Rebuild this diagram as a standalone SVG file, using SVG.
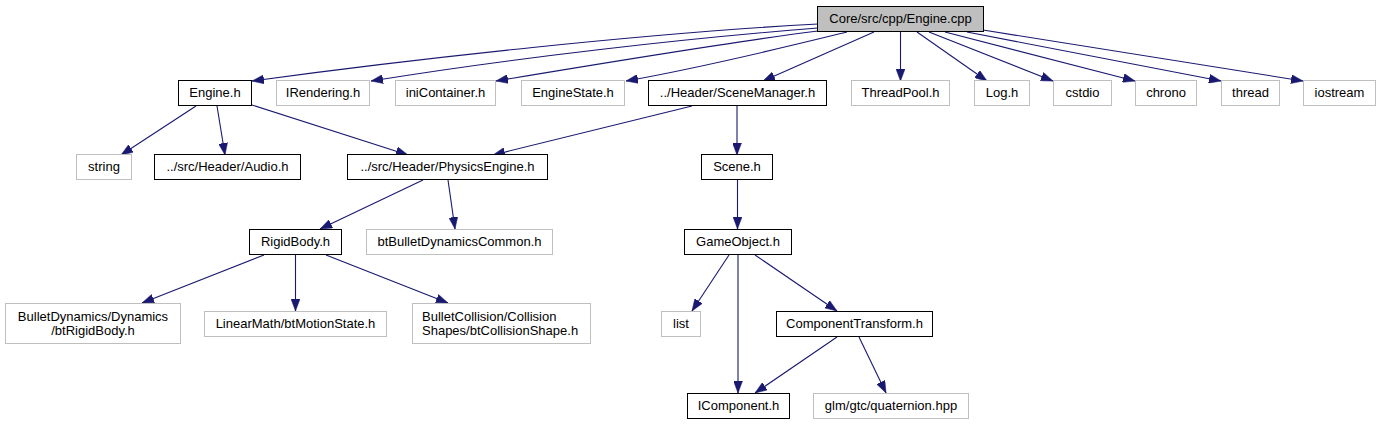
<svg xmlns="http://www.w3.org/2000/svg" width="1381" height="425" viewBox="0 0 1381 425">
<style>
  .n rect { fill: #ffffff; stroke: #000000; stroke-width: 1; }
  .g rect { fill: #ffffff; stroke: #bfbfbf; stroke-width: 1; }
  .root rect { fill: #bfbfbf; stroke: #000000; stroke-width: 1; }
  text { font-family: "Liberation Sans", Arial, Helvetica, sans-serif; font-size: 13px; fill: #000000; text-anchor: middle; }
  .edges path { fill: none; stroke: #191970; stroke-width: 1.1; marker-end: url(#arr); }
</style>
<defs>
  <marker id="arr" viewBox="0 0 12 9" refX="12" refY="4.5" markerWidth="12" markerHeight="9" markerUnits="userSpaceOnUse" orient="auto">
    <path d="M0,0 L12,4.5 L0,9 Z" fill="#191970" stroke="#191970" stroke-width="0.5"/>
  </marker>
</defs>
<rect x="0" y="0" width="1381" height="425" fill="#ffffff"/>
<g id="edges" class="edges">
  <path d="M818,24 C650,33 420,58 252,81"/>
  <path d="M818,28 C690,38 520,57 371,81"/>
  <path d="M818,31 C730,42 610,62 496,81"/>
  <path d="M847,32 C790,46 710,66 626,81"/>
  <path d="M874,32 L763,81"/>
  <path d="M900.5,32 L900.5,81"/>
  <path d="M917,32 L987,81"/>
  <path d="M929,32 L1053,81"/>
  <path d="M945,32 L1135,81"/>
  <path d="M967,32 L1221,81"/>
  <path d="M983,30 L1303,81"/>
  <path d="M196,106 L121,155"/>
  <path d="M217,106 L225,155"/>
  <path d="M252,105 L408,155"/>
  <path d="M692,106 L493,155"/>
  <path d="M737,106 L737,155"/>
  <path d="M423,180 L320,229"/>
  <path d="M448,180 L455,229"/>
  <path d="M264,255 L142,303"/>
  <path d="M295.5,255 L295.5,311"/>
  <path d="M326,255 L448,303"/>
  <path d="M737.5,180 L737.5,229"/>
  <path d="M729,255 L692,311"/>
  <path d="M738,255 L738,393"/>
  <path d="M755,255 L837,311"/>
  <path d="M837,337 L755,393"/>
  <path d="M859,337 L886,393"/>
</g>
<g id="node_root" class="root"><rect x="817.5" y="6.5" width="166" height="25"/><text x="900.5" y="22.5">Core/src/cpp/Engine.cpp</text></g>
<g id="node_engine_h" class="n"><rect x="178.5" y="80.5" width="73" height="25"/><text x="215" y="97">Engine.h</text></g>
<g id="node_irendering" class="g"><rect x="276.5" y="80.5" width="93" height="25"/><text x="323" y="97">IRendering.h</text></g>
<g id="node_inicontainer" class="g"><rect x="395.5" y="80.5" width="100" height="25"/><text x="445.5" y="97">iniContainer.h</text></g>
<g id="node_enginestate" class="g"><rect x="521.5" y="80.5" width="103" height="25"/><text x="573" y="97">EngineState.h</text></g>
<g id="node_scenemanager" class="n"><rect x="648.5" y="80.5" width="178" height="25"/><text x="737.5" y="97">../Header/SceneManager.h</text></g>
<g id="node_threadpool" class="g"><rect x="851.5" y="80.5" width="98" height="25"/><text x="900.5" y="97">ThreadPool.h</text></g>
<g id="node_log" class="g"><rect x="974.5" y="80.5" width="55" height="25"/><text x="1002" y="97">Log.h</text></g>
<g id="node_cstdio" class="g"><rect x="1053.5" y="80.5" width="58" height="25"/><text x="1082.5" y="97">cstdio</text></g>
<g id="node_chrono" class="g"><rect x="1135.5" y="80.5" width="61" height="25"/><text x="1166" y="97">chrono</text></g>
<g id="node_thread" class="g"><rect x="1221.5" y="80.5" width="58" height="25"/><text x="1250.5" y="97">thread</text></g>
<g id="node_iostream" class="g"><rect x="1303.5" y="80.5" width="72" height="25"/><text x="1339.5" y="97">iostream</text></g>
<g id="node_string" class="g"><rect x="76.5" y="154.5" width="55" height="25"/><text x="104" y="171">string</text></g>
<g id="node_audio" class="n"><rect x="154.5" y="154.5" width="146" height="25"/><text x="227.5" y="171">../src/Header/Audio.h</text></g>
<g id="node_physics" class="n"><rect x="347.5" y="154.5" width="200" height="25"/><text x="447.5" y="171">../src/Header/PhysicsEngine.h</text></g>
<g id="node_scene" class="n"><rect x="701.5" y="154.5" width="71" height="25"/><text x="737" y="171">Scene.h</text></g>
<g id="node_rigidbody" class="n"><rect x="249.5" y="229.5" width="92" height="25"/><text x="295.5" y="246">RigidBody.h</text></g>
<g id="node_btbullet" class="g"><rect x="366.5" y="229.5" width="186" height="25"/><text x="459.5" y="246">btBulletDynamicsCommon.h</text></g>
<g id="node_gameobject" class="n"><rect x="684.5" y="229.5" width="107" height="25"/><text x="738" y="246">GameObject.h</text></g>
<g id="node_btrigidbody" class="g"><rect x="5.5" y="303.5" width="175" height="40"/><text x="93" y="320.5">BulletDynamics/Dynamics</text><text x="93" y="334.5">/btRigidBody.h</text></g>
<g id="node_motionstate" class="g"><rect x="204.5" y="311.5" width="182" height="25"/><text x="295.5" y="328">LinearMath/btMotionState.h</text></g>
<g id="node_collisionshape" class="g"><rect x="412.5" y="303.5" width="178" height="40"/><text x="422" y="320.5" style="text-anchor:start">BulletCollision/Collision</text><text x="422" y="334.5" style="text-anchor:start">Shapes/btCollisionShape.h</text></g>
<g id="node_list" class="g"><rect x="661.5" y="311.5" width="39" height="25"/><text x="681" y="328">list</text></g>
<g id="node_comptransform" class="n"><rect x="776.5" y="311.5" width="156" height="25"/><text x="854.5" y="328">ComponentTransform.h</text></g>
<g id="node_icomponent" class="n"><rect x="687.5" y="393.5" width="102" height="25"/><text x="738.5" y="410">IComponent.h</text></g>
<g id="node_quaternion" class="g"><rect x="813.5" y="393.5" width="155" height="25"/><text x="891" y="410">glm/gtc/quaternion.hpp</text></g>
</svg>
